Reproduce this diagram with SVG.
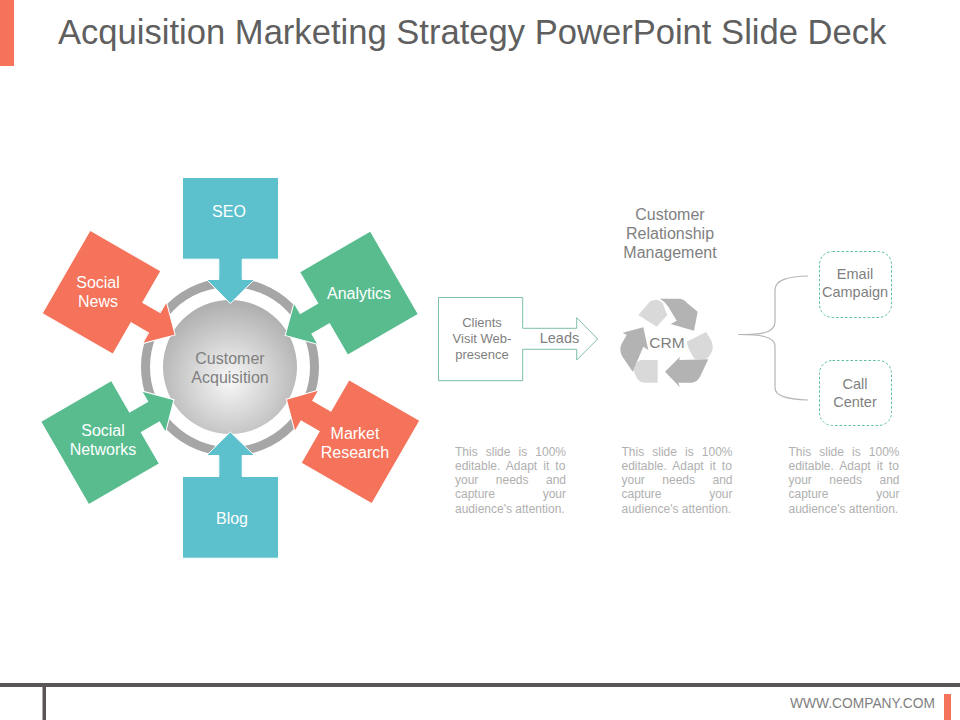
<svg xmlns="http://www.w3.org/2000/svg" width="960" height="720" viewBox="0 0 960 720">
<style>
text{font-family:"Liberation Sans",Arial,sans-serif}
.w{fill:#fff;font-size:16px;text-anchor:middle}
.g{fill:#7f7f7f;font-size:16px;text-anchor:middle}
.s{fill:#7f7f7f;font-size:14.5px;text-anchor:middle}
.c{fill:#7f7f7f;font-size:13px;text-anchor:middle}
.p{fill:#b0b0b0;font-size:12px}
.l1{word-spacing:4.76px}.l2{word-spacing:2.76px}.l3{word-spacing:14.16px}.l4{word-spacing:44.3px}
.call{stroke:#fff;stroke-width:1}
.teal{fill:#5cc1cd}.orange{fill:#f4735a}.green{fill:#58bc8f}
.lt{fill:#d9d9d9}.dk{fill:#b3b3b3}
.dash{fill:#fff;stroke:#5fbf9f;stroke-width:1;stroke-dasharray:2.5 2}
.brace{fill:none;stroke:#b5b5b5;stroke-width:1.2}
</style>
<defs>
<radialGradient id="sph" cx="0.5" cy="0.6" r="0.58"><stop offset="0" stop-color="#f8f8f8"/><stop offset="1" stop-color="#b0b0b0"/></radialGradient>
<polygon id="up" points="182.5,177.5 278.5,177.5 278.5,259.2 242.2,259.2 242.2,279.5 254.5,279.5 230.3,303.5 206.5,279.5 218.8,279.5 218.8,259.2 182.5,259.2"/>
<polygon id="dn" points="182.5,558.2 278.5,558.2 278.5,476.5 242.2,476.5 242.2,455.5 254.5,455.5 230.3,431.9 206.5,455.5 218.8,455.5 218.8,476.5 182.5,476.5"/>
</defs>
<rect width="960" height="720" fill="#fff"/>
<rect x="0" y="0" width="14" height="66" fill="#f4735a"/>
<text x="58" y="44" font-size="34.6" fill="#5f5f5f">Acquisition Marketing Strategy PowerPoint Slide Deck</text>

<g id="customer-acquisition">
<circle cx="230" cy="367" r="84.5" fill="none" stroke="#a6a6a6" stroke-width="9"/>
<circle cx="230" cy="367" r="67" fill="url(#sph)"/>
<text class="g" x="230" y="364">Customer</text>
<text class="g" x="230" y="383">Acquisition</text>
</g>
<g id="seo"><use href="#up" class="call teal"/><text class="w" x="229" y="217">SEO</text></g>
<g id="social-news"><use href="#up" class="call orange" transform="rotate(-60 230 367)"/><text class="w" x="98" y="288">Social</text><text class="w" x="98" y="307">News</text></g>
<g id="analytics"><use href="#up" class="call green" transform="rotate(60 230 367)"/><text class="w" x="359" y="299">Analytics</text></g>
<g id="blog"><use href="#dn" class="call teal"/><text class="w" x="232" y="524">Blog</text></g>
<g id="social-networks"><use href="#dn" class="call green" transform="rotate(60 230 367)"/><text class="w" x="103" y="436">Social</text><text class="w" x="103" y="455">Networks</text></g>
<g id="market-research"><use href="#dn" class="call orange" transform="rotate(-60 230 367)"/><text class="w" x="355" y="439">Market</text><text class="w" x="355" y="458">Research</text></g>

<g id="clients">
<polygon points="438.5,297.5 522.7,297.5 522.7,328.3 576.7,328.3 576.7,317.7 597.7,339 576.7,360 576.7,349.3 522.7,349.3 522.7,380.7 438.5,380.7" fill="#fff" stroke="#7dbfa9" stroke-width="1"/>
<text class="c" x="482" y="327">Clients</text>
<text class="c" x="482" y="343">Visit Web-</text>
<text class="c" x="482" y="359">presence</text>
<text class="s" x="559.5" y="343">Leads</text>
</g>

<g id="crm-title">
<text class="g" x="670" y="220">Customer</text>
<text class="g" x="670" y="239">Relationship</text>
<text class="g" x="670" y="258">Management</text>
</g>
<g id="crm">
<path class="lt" d="M638.3,315 L650,301.5 Q653,299.5 657,300 Q661,300.5 663,304 L667.3,315 L656.7,326.7 Z"/>
<path class="dk" d="M660,298.7 L680,298.7 Q684,299 687,303 L697.7,311.7 L694,330.7 L670.7,324 L676.7,320.7 L668.3,306.7 Q665,301.5 660,298.7 Z"/>
<path class="lt" d="M686.7,341.7 L706,332 L710.5,339 Q713.5,345 712.5,350 Q711,355 706,359.3 L695,359.3 Q689,352 686.7,341.7 Z"/>
<path class="dk" d="M708.3,359.3 L700,376.7 Q697,382 692,382.7 L678.3,382.7 L680,387.3 L665,371.7 L680,356.7 L679.3,360 Z"/>
<path class="lt" d="M633.3,370 L636,364 Q638,360 642,360 L657.7,360 L657.7,382.7 L645,382.7 Q640,382.7 637,378.5 Z"/>
<path class="dk" d="M622.7,332.7 L643.3,327.3 L648.3,350 L643.3,346.7 L632.7,371.7 L622,356 Q619,349 621.5,344 L626.7,335 Z"/>
<text x="667" y="348" font-size="15.5" fill="#7f7f7f" text-anchor="middle">CRM</text>
</g>

<g id="connectors">
<path class="brace" d="M738.5,334.5 C758,334.5 775,334 775,322 L775,290 C775,279 790,276.5 808,276"/>
<path class="brace" d="M738.5,334.5 C758,334.5 775,336 775,346 L775,388 C775,397 790,399.5 808,400"/>
</g>

<g id="email-campaign">
<rect class="dash" x="819.5" y="251.5" width="72" height="66" rx="13"/>
<text class="s" x="855" y="279">Email</text>
<text class="s" x="855" y="297">Campaign</text>
</g>
<g id="call-center">
<rect class="dash" x="819.5" y="360.5" width="72" height="65" rx="13"/>
<text class="s" x="855" y="389">Call</text>
<text class="s" x="855" y="407">Center</text>
</g>

<g id="note-1">
<text class="p l1" x="455" y="456">This slide is 100%</text>
<text class="p l2" x="455" y="470">editable. Adapt it to</text>
<text class="p l3" x="455" y="484">your needs and</text>
<text class="p l4" x="455" y="498">capture your</text>
<text class="p" x="455" y="512.5">audience's attention.</text>
</g>
<g id="note-2">
<text class="p l1" x="621.5" y="456">This slide is 100%</text>
<text class="p l2" x="621.5" y="470">editable. Adapt it to</text>
<text class="p l3" x="621.5" y="484">your needs and</text>
<text class="p l4" x="621.5" y="498">capture your</text>
<text class="p" x="621.5" y="512.5">audience's attention.</text>
</g>
<g id="note-3">
<text class="p l1" x="788.5" y="456">This slide is 100%</text>
<text class="p l2" x="788.5" y="470">editable. Adapt it to</text>
<text class="p l3" x="788.5" y="484">your needs and</text>
<text class="p l4" x="788.5" y="498">capture your</text>
<text class="p" x="788.5" y="512.5">audience's attention.</text>
</g>

<g id="footer">
<rect x="0" y="683" width="960" height="4" fill="#595557"/>
<rect x="42.5" y="687" width="3.5" height="33" fill="#595557"/>
<text x="935" y="708" font-size="13.8" fill="#7f7f7f" text-anchor="end">WWW.COMPANY.COM</text>
<rect x="944" y="694" width="7" height="26" fill="#f4735a"/>
</g>
</svg>
